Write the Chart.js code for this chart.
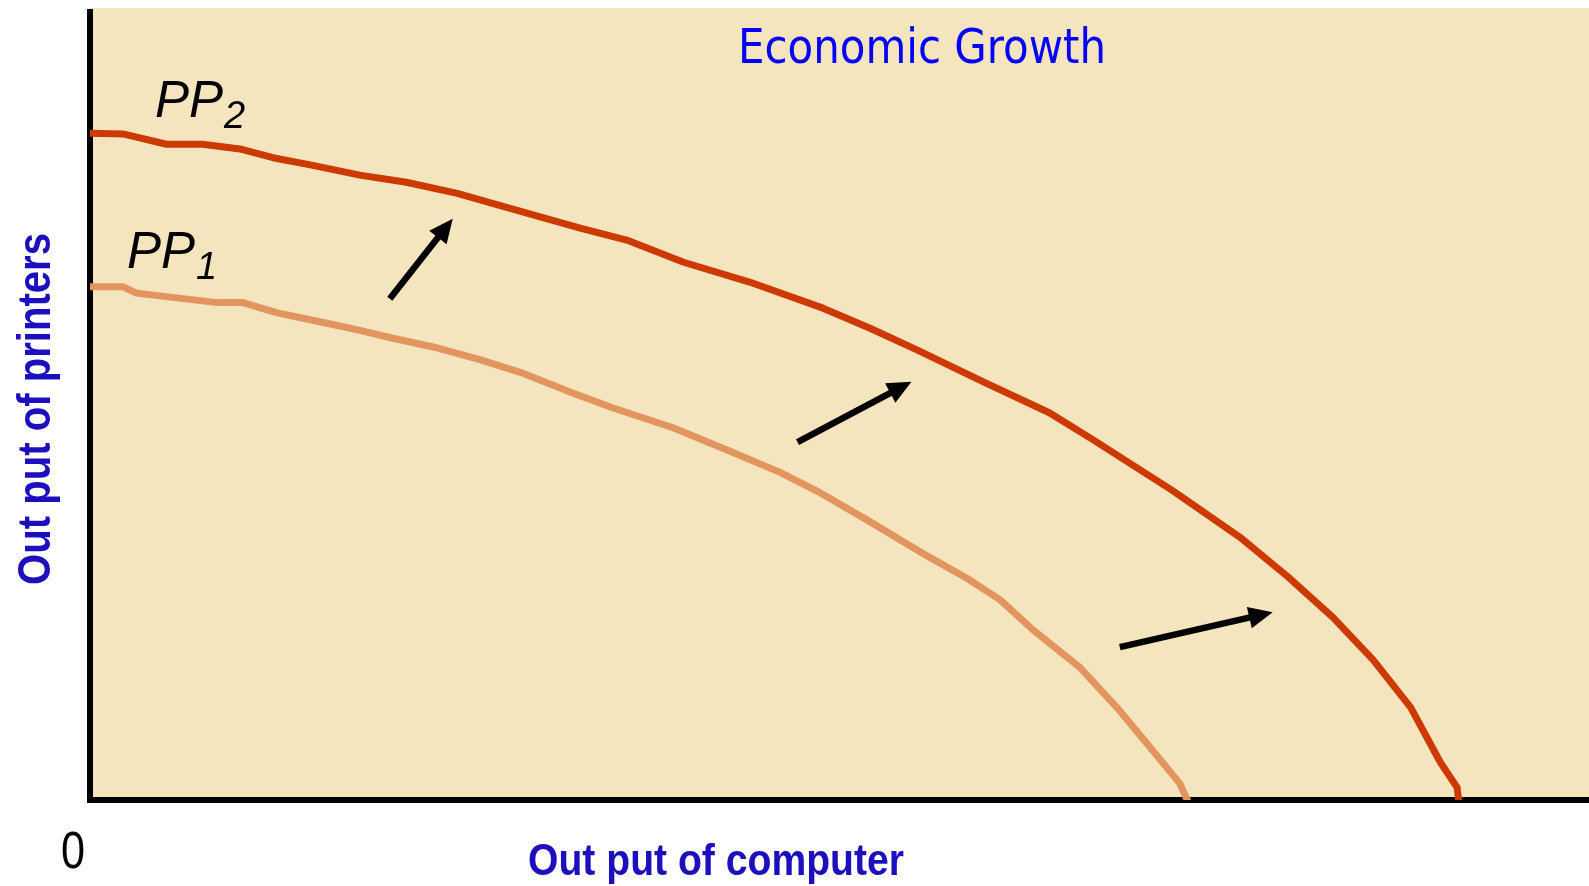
<!DOCTYPE html>
<html><head><meta charset="utf-8">
<script src="https://cdn.jsdelivr.net/npm/chart.js@4.4.0/dist/chart.umd.min.js"></script>
<style>html,body{margin:0;padding:0;background:#fff;overflow:hidden}#wrap{width:1589px;height:886px;position:relative}canvas{display:block}</style>
</head><body><div id="wrap"><canvas id="c" width="1589" height="886"></canvas></div>
<script>
// Production possibilities frontiers (x: output of computers, y: output of printers), 0-100 units
const pp1X = [0, 2.2, 3.1, 5.8, 8.5, 10.2, 12.5, 15.8, 18.0, 20.2, 22.9, 26.0, 28.7, 32.2, 34.9, 38.9, 42.5, 46.0, 48.7, 51.8, 55.4, 58.5, 60.7, 62.9, 66.0, 68.5, 70.7, 72.7, 73.2];
const pp1Y = [64.8, 64.8, 64.0, 63.4, 62.8, 62.8, 61.5, 60.2, 59.3, 58.3, 57.2, 55.6, 54.0, 51.4, 49.5, 47.0, 44.2, 41.4, 38.8, 35.4, 31.3, 28.0, 25.3, 21.5, 16.8, 11.7, 6.7, 2.1, 0];
const pp2X = [0, 2.2, 5.1, 7.5, 10.0, 12.2, 14.7, 18.0, 21.1, 24.5, 28.2, 32.7, 35.8, 39.6, 44.0, 48.9, 52.0, 55.2, 59.6, 64.0, 66.9, 72.2, 76.7, 79.9, 82.9, 85.6, 88.1, 90.1, 91.2, 91.3];
const pp2Y = [84.2, 84.1, 82.8, 82.8, 82.2, 81.1, 80.2, 78.9, 78.0, 76.6, 74.6, 72.2, 70.7, 67.9, 65.4, 62.1, 59.6, 56.8, 52.8, 48.9, 45.5, 39.1, 33.2, 28.2, 23.1, 17.7, 11.7, 4.7, 1.6, 0];
// shift arrows (tail -> tip), same units
const arrowTailX = [20.0, 47.2, 68.7];
const arrowTailY = [63.3, 45.2, 19.3];
const arrowTipX = [24.2, 54.8, 78.9];
const arrowTipY = [73.4, 52.8, 23.7];
const seriesNames = ['PP1', 'PP2'];
const titleText = 'Economic Growth';
const xTitle = 'Out put of computer';
const yTitle = 'Out put of printers';
const originLabel = '0';

const toPts = (xs, ys) => xs.map((x, i) => ({x: x, y: ys[i]}));

function drawText(ctx, text, font, color, x, y, targetWidth, rotate) {
  ctx.save();
  ctx.font = font; ctx.fillStyle = color;
  ctx.textAlign = 'left'; ctx.textBaseline = 'alphabetic';
  const w = ctx.measureText(text).width;
  const sx = targetWidth ? targetWidth / w : 1;
  ctx.translate(x, y);
  if (rotate) ctx.rotate(-Math.PI / 2);
  ctx.scale(sx, 1);
  ctx.fillText(text, 0, 0);
  ctx.restore();
}

const decor = {
  id: 'decor',
  beforeDraw(chart) {
    const {ctx, chartArea: a} = chart;
    ctx.save();
    ctx.fillStyle = '#F5E5BF';
    ctx.fillRect(a.left, a.top, a.right - a.left, a.bottom - a.top);
    ctx.restore();
  },
  beforeDatasetsDraw(chart) {
    const {ctx, chartArea: a} = chart;
    ctx.save();
    ctx.strokeStyle = '#000'; ctx.lineWidth = 6; ctx.lineCap = 'butt';
    ctx.beginPath();
    ctx.moveTo(a.left, a.top + 1); ctx.lineTo(a.left, a.bottom + 3);
    ctx.moveTo(a.left - 3, a.bottom); ctx.lineTo(a.right, a.bottom);
    ctx.stroke();
    ctx.restore();
  },
  afterDatasetsDraw(chart) {
    const {ctx} = chart;
    const xs = chart.scales.x, ys = chart.scales.y;
    ctx.save();
    for (let i = 0; i < arrowTailX.length; i++) {
      const x0 = xs.getPixelForValue(arrowTailX[i]), y0 = ys.getPixelForValue(arrowTailY[i]);
      const x1 = xs.getPixelForValue(arrowTipX[i]), y1 = ys.getPixelForValue(arrowTipY[i]);
      const ang = Math.atan2(y1 - y0, x1 - x0);
      const hl = 24, hw = 11;
      const bx = x1 - hl * Math.cos(ang), by = y1 - hl * Math.sin(ang);
      ctx.strokeStyle = '#000'; ctx.fillStyle = '#000'; ctx.lineWidth = 6.5; ctx.lineCap = 'butt';
      ctx.beginPath(); ctx.moveTo(x0, y0); ctx.lineTo(bx + 2 * Math.cos(ang), by + 2 * Math.sin(ang)); ctx.stroke();
      ctx.beginPath();
      ctx.moveTo(x1, y1);
      ctx.lineTo(bx + hw * Math.sin(ang), by - hw * Math.cos(ang));
      ctx.lineTo(bx - hw * Math.sin(ang), by + hw * Math.cos(ang));
      ctx.closePath(); ctx.fill();
    }
    ctx.restore();
  },
  afterDraw(chart) {
    const {ctx} = chart;
    drawText(ctx, titleText, '48px "DejaVu Sans"', '#0000FF', 738, 63, 368, false);
    drawText(ctx, xTitle, 'bold 45px "Liberation Sans"', '#1C0FBE', 528, 875, 376, false);
    drawText(ctx, yTitle, 'bold 47px "Liberation Sans"', '#1C0FBE', 50, 585, 352, true);
    drawText(ctx, originLabel, '52px "Liberation Sans"', '#000', 61, 868, 24, false);
    // curve labels with subscripts
    const lab = (name, x, y) => {
      ctx.save();
      ctx.font = 'italic 51px "Liberation Sans"'; ctx.fillStyle = '#000';
      const main = name.slice(0, 2), sub = name.slice(2);
      ctx.fillText(main, x, y);
      const w = ctx.measureText(main).width;
      ctx.font = 'italic 38px "Liberation Sans"';
      ctx.fillText(sub, x + w + 1, y + 11);
      ctx.restore();
    };
    lab(seriesNames[1], 155, 117);
    lab(seriesNames[0], 127, 268);
  }
};

new Chart(document.getElementById('c'), {
  type: 'line',
  data: {
    datasets: [
      {label: seriesNames[0], data: toPts(pp1X, pp1Y), borderColor: '#E3955F', borderWidth: 7, pointRadius: 0, tension: 0, borderJoinStyle: 'round', borderCapStyle: 'round', fill: false},
      {label: seriesNames[1], data: toPts(pp2X, pp2Y), borderColor: '#CC3A00', borderWidth: 7, pointRadius: 0, tension: 0, borderJoinStyle: 'round', borderCapStyle: 'round', fill: false}
    ]
  },
  options: {
    responsive: false, animation: false, devicePixelRatio: 1,
    layout: {padding: {left: 90, top: 8, right: 0, bottom: 86}},
    scales: {
      x: {type: 'linear', min: 0, max: 100, display: false},
      y: {type: 'linear', min: 0, max: 100, display: false}
    },
    plugins: {legend: {display: false}, tooltip: {enabled: false}, title: {display: false}},
    elements: {line: {capBezierPoints: false}}
  },
  plugins: [decor]
});
</script></body></html>
